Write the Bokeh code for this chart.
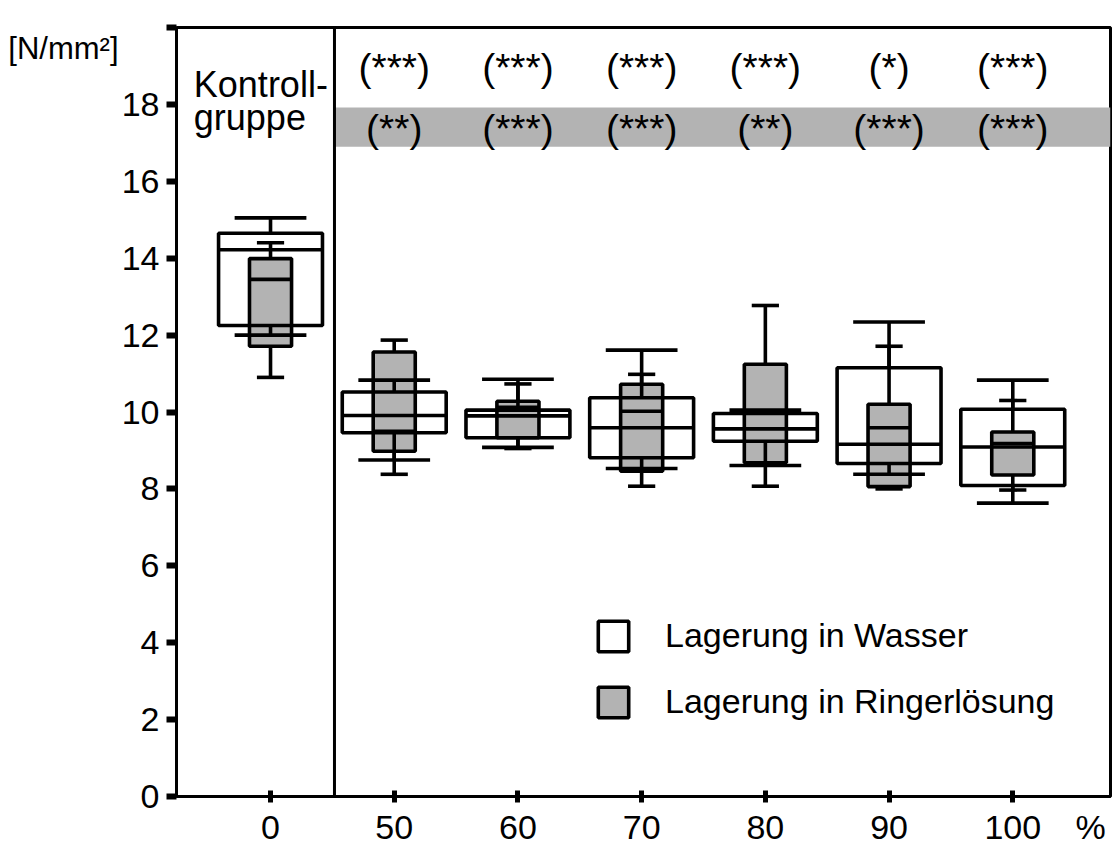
from bokeh.plotting import figure
from bokeh.models import (ColumnDataSource, FixedTicker, Span, Label, Legend,
                          LegendItem, Range1d, LinearAxis)
from bokeh.core.properties import value
from bokeh.embed import file_html
from bokeh.resources import INLINE

# ---------------- data ----------------
groups = ["0", "50", "60", "70", "80", "90", "100"]

# Lagerung in Wasser (white boxes)
water_low = [12.00, 8.75, 9.08, 8.53, 8.61, 8.38, 7.63]
water_q1 = [12.25, 9.46, 9.33, 8.81, 9.24, 8.66, 8.09]
water_med = [14.22, 9.91, 9.90, 9.59, 9.56, 9.16, 9.09]
water_q3 = [14.65, 10.52, 10.05, 10.37, 9.96, 11.15, 10.07]
water_high = [15.05, 10.83, 10.85, 11.61, 10.05, 12.34, 10.83]

# Lagerung in Ringerlösung (grey boxes)
ringer_low = [10.90, 8.38, 9.05, 8.07, 8.07, 8.00, 7.97]
ringer_q1 = [11.71, 8.98, 9.33, 8.46, 8.68, 8.06, 8.36]
ringer_med = [13.45, 9.50, 10.12, 10.02, 10.02, 9.59, 9.18]
ringer_q3 = [13.99, 11.56, 10.28, 10.72, 11.24, 10.20, 9.48]
ringer_high = [14.40, 11.87, 10.73, 10.98, 12.77, 11.71, 10.30]

# significance marks for groups 50..100
sig_water = ["(***)", "(***)", "(***)", "(***)", "(*)", "(***)"]
sig_ringer = ["(**)", "(***)", "(***)", "(**)", "(***)", "(***)"]

y_ticks = [0, 2, 4, 6, 8, 10, 12, 14, 16, 18, 20]
unit_label = "[N/mm²]"
pct_label = "%"

# ---------------- styles ----------------
GREY = "#b3b3b3"
W_BOX, W_CAP = 0.84, 0.58
R_BOX, R_CAP = 0.34, 0.22
LW = 3.6
X0, X1 = -0.76, 6.79
SEP = 0.517
BAND = (16.9, 17.92)
PCT_X = 6.63
UNIT_Y = 19.45
FONT = "Liberation Sans"

pos = list(range(len(groups)))


def box_source(low, q1, med, q3, high, bw, cw):
    return ColumnDataSource(dict(
        x=pos, low=low, q1=q1, med=med, q3=q3, high=high,
        l=[x - bw / 2 for x in pos], r=[x + bw / 2 for x in pos],
        cl=[x - cw / 2 for x in pos], cr=[x + cw / 2 for x in pos]))


ws = box_source(water_low, water_q1, water_med, water_q3, water_high, W_BOX, W_CAP)
rs = box_source(ringer_low, ringer_q1, ringer_med, ringer_q3, ringer_high, R_BOX, R_CAP)

p = figure(width=1114, height=848, x_range=Range1d(X0, X1), y_range=Range1d(0, 20),
           output_backend="svg", toolbar_location=None,
           min_border_left=176, min_border_right=4, min_border_top=27,
           min_border_bottom=51)
p.xgrid.visible = False
p.ygrid.visible = False
p.outline_line_color = "black"
p.outline_line_width = 3
p.outline_line_alpha = 1

# band behind the second row of significance marks
p.quad(left=SEP, right=X1, bottom=BAND[0], top=BAND[1], fill_color=GREY, line_color=None)

# fills
wf = p.quad(left="l", right="r", bottom="q1", top="q3", source=ws,
            fill_color="white", line_color=None)
rf = p.quad(left="l", right="r", bottom="q1", top="q3", source=rs,
            fill_color=GREY, line_color=None)

# outlines, medians, whiskers
rend = {}
for key, src in (("w", ws), ("r", rs)):
    rend[key] = p.quad(left="l", right="r", bottom="q1", top="q3", source=src,
                       fill_color=None, line_color="black", line_width=LW)
    p.segment(x0="l", x1="r", y0="med", y1="med", source=src, line_color="black", line_width=LW)
    p.segment(x0="x", x1="x", y0="q3", y1="high", source=src, line_color="black", line_width=LW)
    p.segment(x0="x", x1="x", y0="q1", y1="low", source=src, line_color="black", line_width=LW)
    p.segment(x0="cl", x1="cr", y0="high", y1="high", source=src, line_color="black", line_width=LW)
    p.segment(x0="cl", x1="cr", y0="low", y1="low", source=src, line_color="black", line_width=LW)

# significance marks
sig_src = ColumnDataSource(dict(x=pos[1:], w=sig_water, r=sig_ringer,
                                yw=[18.95] * 6, yr=[17.38] * 6))
for col, ycol in (("w", "yw"), ("r", "yr")):
    p.text(x="x", y=ycol, text=col, source=sig_src, text_font=value(FONT),
           text_font_size="39px", text_align="center", text_baseline="middle",
           text_color="black")

# separator between control group and the rest
p.add_layout(Span(location=SEP, dimension="height", line_color="black", line_width=3))

# control group caption
for txt, yy in (("Kontroll-", 18.52), ("gruppe", 17.66)):
    p.add_layout(Label(x=-0.62, y=yy, text=txt, text_font=FONT, text_font_size="36px",
                       text_align="left", text_baseline="alphabetic", text_color="black"))

# ---------------- axes ----------------
xax = p.xaxis[0]
xax.ticker = FixedTicker(ticks=pos + [PCT_X], minor_ticks=pos)
overrides = {i: g for i, g in enumerate(groups)}
overrides[PCT_X] = pct_label
xax.major_label_overrides = overrides
xax.major_tick_line_color = None
xax.major_tick_out = 0
xax.major_tick_in = 0
xax.minor_tick_line_color = "black"
xax.minor_tick_line_width = 5
xax.minor_tick_in = 6
xax.minor_tick_out = 6
xax.major_label_standoff = 5

yax = p.yaxis[0]
yax.ticker = FixedTicker(ticks=y_ticks)
yax.major_label_overrides = {20: ""}
yax.major_tick_line_color = "black"
yax.major_tick_line_width = 6
yax.major_tick_out = 10
yax.major_tick_in = 0
yax.minor_tick_line_color = None
yax.major_label_standoff = 7

for ax in (xax, yax):
    ax.axis_line_width = 3
    ax.axis_line_color = "black"
    ax.major_label_text_font = FONT
    ax.major_label_text_font_size = "34px"
    ax.major_label_text_color = "black"

# unit caption as an outer left axis
unit_ax = LinearAxis(ticker=FixedTicker(ticks=[UNIT_Y]),
                     major_label_overrides={UNIT_Y: unit_label},
                     axis_line_color=None, major_tick_line_color=None,
                     minor_tick_line_color=None, major_tick_out=0, major_tick_in=0,
                     major_label_standoff=0, major_label_text_font=FONT,
                     major_label_text_font_size="31px", major_label_text_color="black")
p.add_layout(unit_ax, "left")

legend = Legend(items=[LegendItem(label="Lagerung in Wasser", renderers=[wf, rend["w"]]),
                       LegendItem(label="Lagerung in Ringerlösung", renderers=[rf, rend["r"]])],
                location=(418, 75), glyph_width=38, glyph_height=38, label_height=38,
                spacing=27, label_standoff=33, padding=0, margin=0,
                border_line_color=None, background_fill_alpha=0,
                label_text_font=FONT, label_text_font_size="34px",
                label_text_color="black", label_text_baseline="middle")
p.add_layout(legend)

open("out.html", "w").write(file_html(p, INLINE))
